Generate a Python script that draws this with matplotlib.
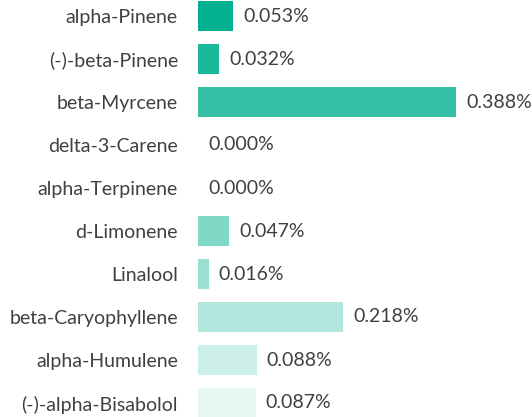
import matplotlib
matplotlib.use("Agg")
import matplotlib.pyplot as plt
from matplotlib.colors import to_rgba

categories = ["alpha-Pinene", "(-)-beta-Pinene", "beta-Myrcene", "delta-3-Carene",
              "alpha-Terpinene", "d-Limonene", "Linalool", "beta-Caryophyllene",
              "alpha-Humulene", "(-)-alpha-Bisabolol"]
values = [0.053, 0.032, 0.388, 0.000, 0.000, 0.047, 0.016, 0.218, 0.088, 0.087]
alphas = [1.0, 0.9, 0.8, 0.7, 0.6, 0.5, 0.4, 0.3, 0.2, 0.1]
base = "#00B08F"

plt.rcParams['font.family'] = ['Lato', 'DejaVu Sans']
fig = plt.figure(figsize=(5.32, 4.17), dpi=100)
ax = fig.add_axes([198/532, 0, 1 - 198/532, 1])

colors = []
for a in alphas:
    r, g, b, _ = to_rgba(base)
    colors.append((1 - a + a * r, 1 - a + a * g, 1 - a + a * b))

ypos = list(range(len(categories)))
ax.barh(ypos, values, height=0.68, color=colors)
ax.set_xlim(0, (532 - 198) / 665)
ax.set_ylim((417 - 16) / 43, -16 / 43)

fs = 14.0
for y, v in zip(ypos, values):
    ax.annotate(f"{v:.3f}%", xy=(v, y), xytext=(10, 0), textcoords="offset pixels",
                va="center", ha="left", fontsize=fs, color="#404040")

ax.set_yticks(ypos)
ax.set_yticklabels(categories, fontsize=fs, color="#404040")
ax.tick_params(axis='y', length=0, pad=14.4)
ax.set_xticks([])
for s in ax.spines.values():
    s.set_visible(False)

fig.savefig("out.png", dpi=100)
